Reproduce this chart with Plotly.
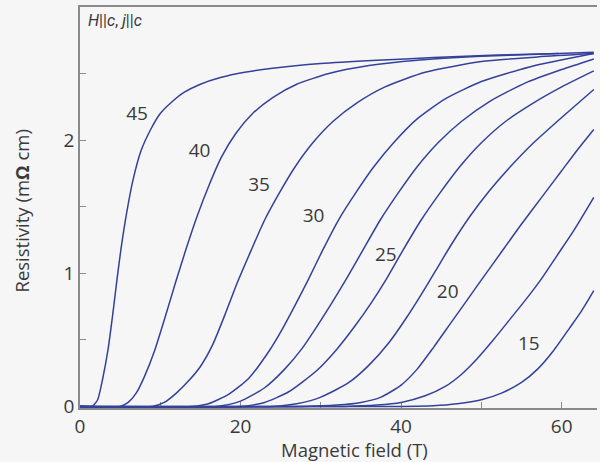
import plotly.graph_objects as go

# ---- data (field in T, resistivity in mOhm cm) ----
temps = ["45", "40", "35", "30", "27.5", "25", "22.5", "20", "17.5", "15"]

b45 = [0, 1.5, 2.2, 2.8, 3.5, 4.1, 4.6, 5.1, 5.8, 6.6, 7.6, 8.8, 10, 11.5, 13, 15, 17.5, 20.5, 24, 30, 37, 44, 52, 59.6]
r45 = [0, 0, 0.05, 0.2, 0.43, 0.7, 0.95, 1.18, 1.45, 1.7, 1.92, 2.08, 2.2, 2.29, 2.36, 2.42, 2.47, 2.51, 2.54, 2.575, 2.6, 2.62, 2.64, 2.65]

b40 = [0, 5, 6, 7, 8, 9.3, 10.6, 11.9, 13.2, 14.6, 16, 17.6, 19.4, 21.5, 24, 27, 31, 36, 42, 50, 57, 64]
r40 = [0, 0, 0.03, 0.1, 0.22, 0.42, 0.67, 0.93, 1.18, 1.43, 1.65, 1.87, 2.05, 2.2, 2.32, 2.42, 2.5, 2.56, 2.6, 2.63, 2.645, 2.66]

b35 = [0, 9, 10.5, 12, 13.5, 15, 16.5, 18, 19.6, 21.3, 23, 24.8, 26.8, 29, 31.5, 34.5, 38, 43, 50, 57, 64]
r35 = [0, 0, 0.03, 0.1, 0.19, 0.3, 0.46, 0.68, 0.93, 1.17, 1.4, 1.6, 1.8, 1.98, 2.14, 2.28, 2.4, 2.51, 2.59, 2.625, 2.65]

b30 = [0, 14, 16, 18.5, 21, 23.6, 25.2, 26.8, 28.5, 30.2, 32.2, 34.3, 36.6, 39.2, 42, 45.5, 50, 56, 64]
r30 = [0, 0, 0.02, 0.09, 0.21, 0.42, 0.58, 0.76, 0.96, 1.17, 1.4, 1.6, 1.8, 1.99, 2.16, 2.31, 2.44, 2.55, 2.65]

b275 = [0, 17, 20, 23, 25.5, 27.6, 29.4, 31.2, 33.2, 35.2, 37.4, 39.6, 42, 44.6, 47.5, 51, 55.5, 60, 64]
r275 = [0, 0, 0.04, 0.14, 0.28, 0.43, 0.59, 0.76, 0.96, 1.17, 1.4, 1.6, 1.8, 1.98, 2.14, 2.29, 2.43, 2.53, 2.61]

b25 = [0, 20, 23, 26, 29.5, 32, 34.2, 36.2, 38.2, 40.2, 42.5, 44.8, 47.3, 50, 53, 56.5, 60, 64]
r25 = [0, 0, 0.03, 0.11, 0.27, 0.43, 0.6, 0.77, 0.96, 1.17, 1.4, 1.6, 1.8, 1.98, 2.14, 2.28, 2.4, 2.52]

b225 = [0, 24, 27, 30, 33.5, 36, 38.5, 40.6, 42.5, 44.3, 46.3, 48.6, 51, 53.6, 56.5, 60, 64]
r225 = [0, 0, 0.02, 0.07, 0.18, 0.31, 0.48, 0.66, 0.84, 1.02, 1.22, 1.43, 1.62, 1.8, 1.98, 2.17, 2.38]

b20 = [0, 28, 32, 35, 37.5, 40, 42, 44, 46, 48, 50, 52.5, 55, 57.5, 60, 62, 64]
r20 = [0, 0, 0.01, 0.03, 0.07, 0.16, 0.28, 0.44, 0.61, 0.78, 0.95, 1.16, 1.37, 1.57, 1.77, 1.93, 2.08]

b175 = [0, 33, 37, 40, 43, 45.5, 47.5, 49.5, 51.5, 53.5, 55.5, 57.5, 59.5, 61.5, 64]
r175 = [0, 0, 0.01, 0.03, 0.08, 0.15, 0.24, 0.36, 0.5, 0.65, 0.8, 0.96, 1.14, 1.32, 1.57]

b15 = [0, 40, 44, 47, 50, 52.5, 55, 57, 59, 61, 62.5, 64]
r15 = [0, 0, 0.005, 0.02, 0.05, 0.1, 0.18, 0.28, 0.42, 0.59, 0.72, 0.87]

fields = [b45, b40, b35, b30, b275, b25, b225, b20, b175, b15]
resist = [r45, r40, r35, r30, r275, r25, r225, r20, r175, r15]

# curve labels (text, field, resistivity)
label_text = ["45", "40", "35", "30", "25", "20", "15"]
label_x = [7.1, 14.9, 22.3, 29.1, 38.1, 45.8, 55.9]
label_y = [2.19, 1.91, 1.65, 1.42, 1.13, 0.85, 0.46]

x_ticks = [0, 20, 40, 60]
y_ticks = [0, 1, 2]

LINE = "#34419a"
TXT = "#3a3a3a"
AX = "#8a8a8a"
BG = "#f6f6f6"
FONT = "Open Sans, Noto Sans, DejaVu Sans, sans-serif"

fig = go.Figure()
for t, bx, ry in zip(temps, fields, resist):
    fig.add_trace(go.Scatter(x=bx, y=ry, mode="lines", name=t,
                             line=dict(color=LINE, width=1.5, shape="spline", smoothing=0.6),
                             showlegend=False, hoverinfo="skip"))

fig.add_trace(go.Scatter(x=label_x, y=label_y, mode="text", text=label_text,
                         textfont=dict(family=FONT, size=19, color=TXT),
                         showlegend=False, hoverinfo="skip"))

fig.update_layout(
    width=600, height=462,
    margin=dict(l=80, r=3, t=7, b=54),
    paper_bgcolor=BG, plot_bgcolor=BG,
    font=dict(family=FONT, size=17, color=TXT),
    xaxis=dict(range=[0, 64.4], tickvals=x_ticks, ticks="inside", ticklen=6, tickcolor=AX,
               showline=True, linecolor=AX, linewidth=1.5, mirror=True, showgrid=False, zeroline=False,
               minor=dict(dtick=10, ticks="inside", ticklen=6, tickcolor=AX),
               tickfont=dict(size=19), automargin=False, layer="below traces"),
    yaxis=dict(range=[-0.012, 3.0], tickvals=y_ticks, ticks="inside", ticklen=6, tickcolor=AX,
               showline=True, linecolor=AX, linewidth=1.5, mirror=False, showgrid=False, zeroline=False,
               minor=dict(dtick=0.5, ticks="inside", ticklen=6, tickcolor=AX),
               tickfont=dict(size=19), automargin=False, layer="below traces"),
    annotations=[
        dict(text="<i>H</i>||<i>c</i>, <i>j</i>||<i>c</i>", xref="paper", yref="paper",
             x=0.012, y=0.995, xanchor="left", yanchor="top", showarrow=False,
             font=dict(family="Roboto, Open Sans, sans-serif", size=16, color=TXT)),
        dict(text="Magnetic field (T)", xref="paper", yref="paper", x=0.53, y=0,
             yshift=-41, xanchor="center", yanchor="middle", showarrow=False,
             font=dict(family=FONT, size=18.5, color=TXT)),
        dict(text="Resistivity (m<b>Ω</b> cm)", xref="paper", yref="paper", x=0, y=0.49,
             xshift=-58, xanchor="center", yanchor="middle", textangle=-90, showarrow=False,
             font=dict(family=FONT, size=18.5, color=TXT)),
    ],
)

fig.write_html("out.html", config={"displayModeBar": False},
               post_script="document.body.style.margin='0';document.body.style.background='#f6f6f6';")
